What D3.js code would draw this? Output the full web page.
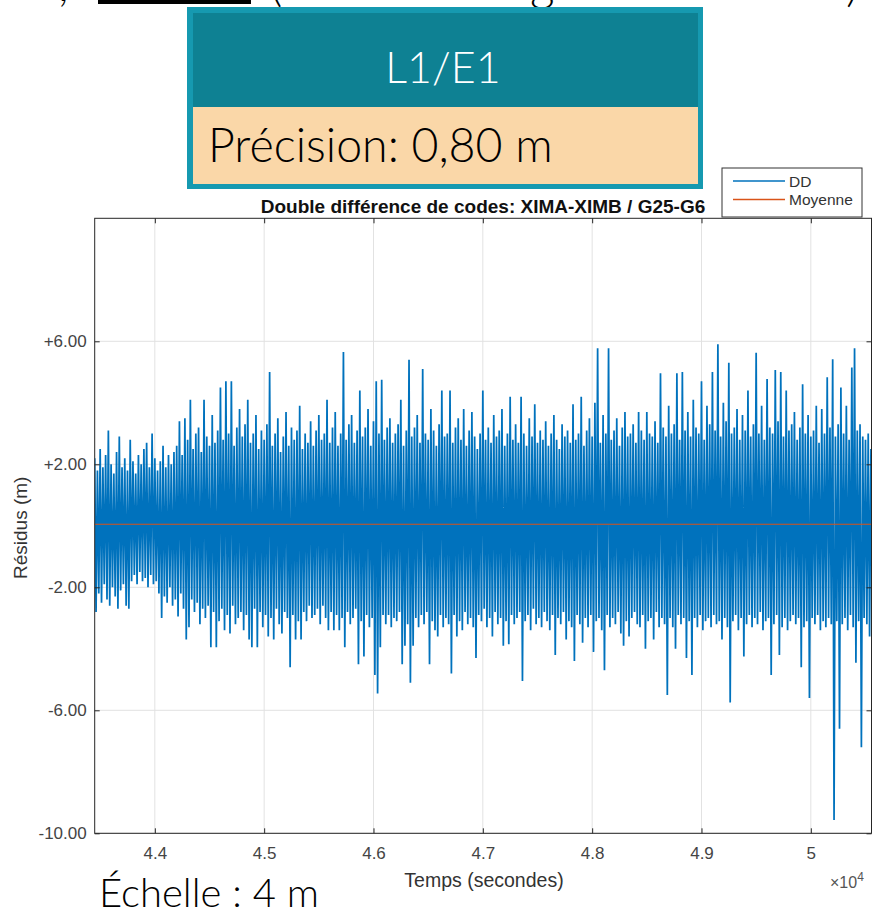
<!DOCTYPE html>
<html lang="fr">
<head>
<meta charset="UTF-8">
<title>Double différence de codes - D3.js</title>
<script src="https://d3js.org/d3.v7.min.js"></script>
<style>
    body { margin: 0; background: #fff; }
    svg text { font-family: "Liberation Sans", Arial, sans-serif; fill: #333; }
    svg text.slide { font-family: Lato, "Open Sans", sans-serif; font-weight: 300; fill: #000; }
</style>
</head>
<body>
<svg width="874" height="913"></svg>
<script>
    // residuals: one high and one low value every 25 s
    const t0 = 43450;
    const dt = 25;
    const upper = [
        2.2, 1.8, 2.5, 1.9, 2.3, 3.1, 2.0, 1.7, 2.4, 2.9, 1.9, 2.2, 1.8, 2.8, 2.1,
        1.7, 2.3, 2.0, 2.5, 2.7, 1.9, 3.0, 2.2, 1.8, 2.1, 2.6, 1.9, 2.3, 2.0, 2.4,
        2.6, 3.4, 2.3, 3.5, 2.8, 4.1, 2.5, 3.0, 3.2, 2.4, 4.1, 2.9, 2.6, 3.6, 2.7,
        3.1, 4.5, 2.8, 4.7, 3.0, 4.7, 2.6, 3.2, 3.8, 2.9, 3.3, 4.1, 2.7, 3.0, 3.6,
        2.5, 3.1, 2.8, 3.3, 5.0, 2.6, 3.0, 3.5, 2.4, 2.9, 3.7, 2.6, 3.2, 2.8, 3.1,
        3.9, 2.5, 3.0, 2.7, 3.4, 2.6, 3.1, 3.6, 2.8, 3.0, 4.1, 2.7, 3.2, 3.7, 2.6,
        3.0, 5.65, 2.8, 3.3, 3.6, 2.7, 3.1, 4.4, 2.9, 3.2, 3.8, 2.6, 3.4, 4.7, 3.0,
        4.75, 2.8, 3.2, 3.5, 2.7, 3.0, 3.3, 4.1, 2.6, 3.1, 5.4, 2.9, 3.2, 3.6, 2.7,
        5.1, 3.0, 2.8, 3.8, 3.1, 2.6, 3.3, 4.4, 2.9, 3.0, 4.4, 2.7, 3.2, 3.5, 2.8,
        3.8, 2.6, 3.1, 3.7, 2.9, 2.5, 3.0, 4.4, 2.8, 3.2, 2.7, 3.6, 2.9, 3.1, 3.8,
        2.6, 3.0, 4.2, 2.8, 3.3, 2.7, 4.2, 3.0, 2.6, 3.5, 2.9, 3.95, 2.7, 3.1, 2.8,
        3.4, 2.6, 3.0, 3.6, 2.8, 2.5, 3.3, 2.9, 3.1, 2.7, 3.95, 2.8, 3.0, 4.2, 2.6,
        3.1, 3.5, 2.9, 4.0, 5.77, 2.7, 3.6, 3.0, 5.77, 2.8, 3.1, 3.5, 2.6, 3.2, 3.7,
        2.9, 3.0, 3.3, 2.7, 3.7, 3.1, 2.8, 3.7, 3.0, 2.9, 3.4, 2.7, 4.96, 3.2, 2.9,
        3.9, 3.0, 3.3, 4.96, 2.8, 5.0, 3.1, 3.7, 2.9, 4.1, 3.2, 3.0, 4.7, 2.8, 3.9,
        3.3, 5.0, 3.1, 5.9, 2.9, 4.0, 3.4, 5.3, 3.0, 3.2, 3.8, 2.8, 3.6, 3.1, 4.4,
        2.9, 3.3, 5.63, 3.0, 3.9, 2.8, 4.77, 3.2, 3.0, 5.07, 3.4, 5.0, 2.9, 4.4, 3.1,
        3.3, 3.7, 2.8, 3.2, 4.6, 3.0, 3.6, 2.9, 3.1, 3.9, 2.7, 3.8, 3.0, 4.83, 3.2,
        5.42, 2.9, 3.3, 4.5, 3.0, 3.9, 2.8, 5.15, 5.77, 3.1, 3.3, 2.9, 2.8, 3.0, 2.5
    ];
    const lower = [
        -2.8, -2.2, -2.5, -1.9, -2.4, -2.6, -2.0, -2.3, -2.7, -2.1, -1.9, -2.6, -2.7, -1.8, -1.6,
        -1.9, -1.5, -1.8, -1.7, -2.0, -1.6, -1.9, -1.8, -2.2, -3.0, -2.3, -2.5, -2.0, -2.6, -2.4,
        -2.95, -2.2, -2.7, -3.7, -3.3, -2.4, -2.8, -2.5, -3.2, -2.7, -3.0, -2.6, -3.95, -2.8, -3.95,
        -3.1, -2.7, -3.4, -2.9, -3.5, -2.6, -3.2, -3.0, -2.8, -3.4, -2.9, -3.7, -3.95, -2.7, -3.95,
        -2.8, -3.3, -2.9, -3.6, -3.0, -3.7, -2.7, -3.2, -3.5, -2.8, -3.0, -4.6, -2.9, -3.7, -3.1,
        -3.7, -2.8, -3.1, -2.6, -3.0, -2.9, -2.7, -3.2, -2.6, -3.0, -3.4, -2.8, -3.4, -2.9, -3.4,
        -3.0, -3.95, -2.8, -3.2, -3.0, -2.7, -4.5, -3.1, -4.25, -2.9, -3.3, -3.0, -4.85, -5.45, -3.95,
        -2.9, -3.2, -2.9, -3.3, -3.0, -3.1, -2.8, -4.5, -3.9, -3.2, -5.1, -3.9, -3.0, -3.3, -2.9,
        -3.2, -2.8, -4.5, -3.1, -3.4, -3.6, -2.9, -3.3, -3.0, -3.2, -4.8, -2.9, -3.6, -3.1, -3.4,
        -2.8, -3.2, -3.0, -3.3, -4.3, -2.9, -3.1, -2.7, -3.3, -3.0, -3.6, -2.8, -3.2, -3.0, -3.9,
        -3.1, -3.85, -2.9, -3.2, -3.0, -2.8, -5.05, -3.1, -2.9, -3.4, -2.7, -3.2, -3.0, -3.3, -2.8,
        -3.1, -3.4, -2.9, -4.2, -3.0, -3.2, -2.8, -3.7, -3.1, -3.3, -4.4, -2.9, -3.2, -3.8, -3.0,
        -3.3, -2.9, -4.1, -3.1, -3.0, -3.4, -4.7, -2.9, -3.3, -3.0, -3.2, -2.8, -3.5, -3.9, -3.1,
        -3.6, -3.0, -2.8, -3.2, -3.3, -2.9, -4.0, -3.1, -3.0, -3.7, -2.8, -3.3, -3.0, -3.2, -5.5,
        -3.0, -3.3, -4.0, -2.9, -3.2, -3.0, -4.3, -3.1, -4.85, -3.0, -3.3, -2.9, -3.4, -3.1, -3.0,
        -3.3, -2.9, -3.2, -3.1, -3.7, -3.0, -3.3, -5.75, -3.1, -2.9, -3.4, -3.0, -4.25, -3.2, -2.9,
        -3.3, -3.0, -3.2, -2.8, -3.4, -3.1, -3.0, -4.85, -3.2, -2.9, -4.2, -3.3, -3.0, -3.4, -3.1,
        -2.9, -3.2, -3.0, -4.6, -3.3, -3.1, -5.6, -3.0, -3.2, -2.9, -3.4, -3.1, -3.3, -3.0, -3.2,
        -9.57, -3.1, -6.6, -3.2, -3.0, -3.4, -2.9, -3.3, -4.45, -3.1, -7.2, -3.0, -3.2, -3.6, -2.8
    ];
    const meanVal = 0.05;

    const xTicks = [44000, 45000, 46000, 47000, 48000, 49000, 50000];
    const xTickLabels = ["4.4", "4.5", "4.6", "4.7", "4.8", "4.9", "5"];
    const yTicks = [-10, -6, -2, 2, 6];
    const yTickLabels = ["-10.00", "-6.00", "-2.00", "+2.00", "+6.00"];
    const legendNames = ["DD", "Moyenne"];
    const colors = ["#0072BD", "#D95319"];

    const svg = d3.select("svg");
    svg.append("rect").attr("width", 874).attr("height", 913).attr("fill", "#fff");

    // slide text around the figure (the line above is cut by the page edge)
    const topBits = [[58, ","], [270, "("], [530, "g"], [846, ")"]];
    svg.selectAll(".topbit").data(topBits).enter().append("text")
        .attr("class", "slide")
        .attr("x", d => d[0]).attr("y", 1)
        .attr("font-size", 48)
        .text(d => d[1]);
    svg.append("rect").attr("x", 98).attr("y", 0).attr("width", 153).attr("height", 4).attr("fill", "#000");

    svg.append("rect").attr("x", 187).attr("y", 7).attr("width", 516).attr("height", 182).attr("fill", "#1699b0");
    svg.append("rect").attr("x", 193).attr("y", 13).attr("width", 505).attr("height", 94).attr("fill", "#0e8193");
    svg.append("rect").attr("x", 193).attr("y", 107).attr("width", 505).attr("height", 77).attr("fill", "#fad7a8");
    svg.append("text").attr("class", "slide")
        .attr("x", 443).attr("y", 83).attr("text-anchor", "middle")
        .attr("font-size", 43).style("fill", "#fff").text("L1/E1");
    svg.append("text").attr("class", "slide")
        .attr("x", 208).attr("y", 162).attr("font-size", 46.5).text("Précision: 0,80 m");
    svg.append("text").attr("class", "slide")
        .attr("x", 99).attr("y", 907).attr("font-size", 40).text("Échelle : 4 m");

    // axes
    const pLeft = 94.7, pRight = 871.5, pTop = 218.3, pBottom = 833.3;
    const x = d3.scaleLinear().domain([43450, 50555]).range([pLeft, pRight]);
    const y = d3.scaleLinear().domain([-10, 10]).range([pBottom, pTop]);

    const grid = svg.append("g").attr("stroke", "#e2e2e2").attr("stroke-width", 1);
    grid.selectAll(".vg").data(xTicks).enter().append("line")
        .attr("x1", d => x(d)).attr("x2", d => x(d)).attr("y1", pTop).attr("y2", pBottom);
    grid.selectAll(".hg").data(yTicks).enter().append("line")
        .attr("x1", pLeft).attr("x2", pRight).attr("y1", d => y(d)).attr("y2", d => y(d));

    svg.append("clipPath").attr("id", "plot")
        .append("rect").attr("x", pLeft).attr("y", pTop).attr("width", pRight - pLeft).attr("height", pBottom - pTop);

    const pts = upper.flatMap((u, i) => [[t0 + i * dt, u], [t0 + i * dt + dt / 2, lower[i]]]);
    const line = d3.line().x(d => x(d[0])).y(d => y(d[1]));
    svg.append("path").datum(pts)
        .attr("clip-path", "url(#plot)")
        .attr("d", line)
        .attr("fill", "none")
        .attr("stroke", colors[0])
        .attr("stroke-width", 1.75)
        .attr("stroke-linejoin", "bevel");

    svg.append("line")
        .attr("x1", x(43450)).attr("x2", x(50555))
        .attr("y1", y(meanVal)).attr("y2", y(meanVal))
        .attr("stroke", colors[1]).attr("stroke-width", 1.2);

    svg.append("g").attr("transform", `translate(0,${pBottom})`)
        .call(d3.axisBottom(x).tickValues(xTicks).tickFormat((d, i) => xTickLabels[i])
            .tickSizeInner(-5).tickSizeOuter(0).tickPadding(14));
    svg.append("g").attr("transform", `translate(0,${pTop})`)
        .call(d3.axisTop(x).tickValues(xTicks).tickFormat("").tickSizeInner(-5).tickSizeOuter(0));
    svg.append("g").attr("transform", `translate(${pLeft},0)`)
        .call(d3.axisLeft(y).tickValues(yTicks).tickFormat((d, i) => yTickLabels[i])
            .tickSizeInner(-5).tickSizeOuter(0).tickPadding(8));
    svg.append("g").attr("transform", `translate(${pRight},0)`)
        .call(d3.axisRight(y).tickValues(yTicks).tickFormat("").tickSizeInner(-5).tickSizeOuter(0));
    svg.selectAll(".domain").remove();
    svg.selectAll(".tick line").attr("stroke", "#262626");
    svg.selectAll(".tick text").attr("font-size", 17)
        .attr("font-family", "Liberation Sans, Arial, sans-serif").style("fill", "#444");

    svg.append("rect").attr("x", pLeft).attr("y", pTop)
        .attr("width", pRight - pLeft).attr("height", pBottom - pTop)
        .attr("fill", "none").attr("stroke", "#262626").attr("stroke-width", 1);

    svg.append("text").attr("x", 484).attr("y", 887)
        .attr("text-anchor", "middle").attr("font-size", 19.5).text("Temps (secondes)");
    const expo = svg.append("text").attr("x", 830).attr("y", 888).attr("font-size", 16).style("fill", "#555");
    expo.append("tspan").text("\u00d710");
    expo.append("tspan").attr("dy", -7).attr("font-size", 12).text("4");
    svg.append("text")
        .attr("transform", `translate(27,${(pTop + pBottom) / 2 + 2}) rotate(-90)`)
        .attr("text-anchor", "middle").attr("font-size", 19).text("Résidus (m)");

    svg.append("text").attr("x", 483).attr("y", 213)
        .attr("text-anchor", "middle").attr("font-size", 19).attr("font-weight", "bold")
        .style("fill", "#111").text("Double différence de codes: XIMA-XIMB / G25-G6");

    // legend
    const lg = svg.append("g");
    lg.append("rect").attr("x", 722).attr("y", 168).attr("width", 140).attr("height", 49)
        .attr("fill", "#fff").attr("stroke", "#333").attr("stroke-width", 1);
    legendNames.forEach((name, i) => {
        const ly = 181 + i * 18.5;
        lg.append("line").attr("x1", 733).attr("x2", 785).attr("y1", ly).attr("y2", ly)
            .attr("stroke", colors[i]).attr("stroke-width", 1.3);
        lg.append("text").attr("x", 789).attr("y", ly + 5.5).attr("font-size", 15.5).text(name);
    });
</script>
</body>
</html>
